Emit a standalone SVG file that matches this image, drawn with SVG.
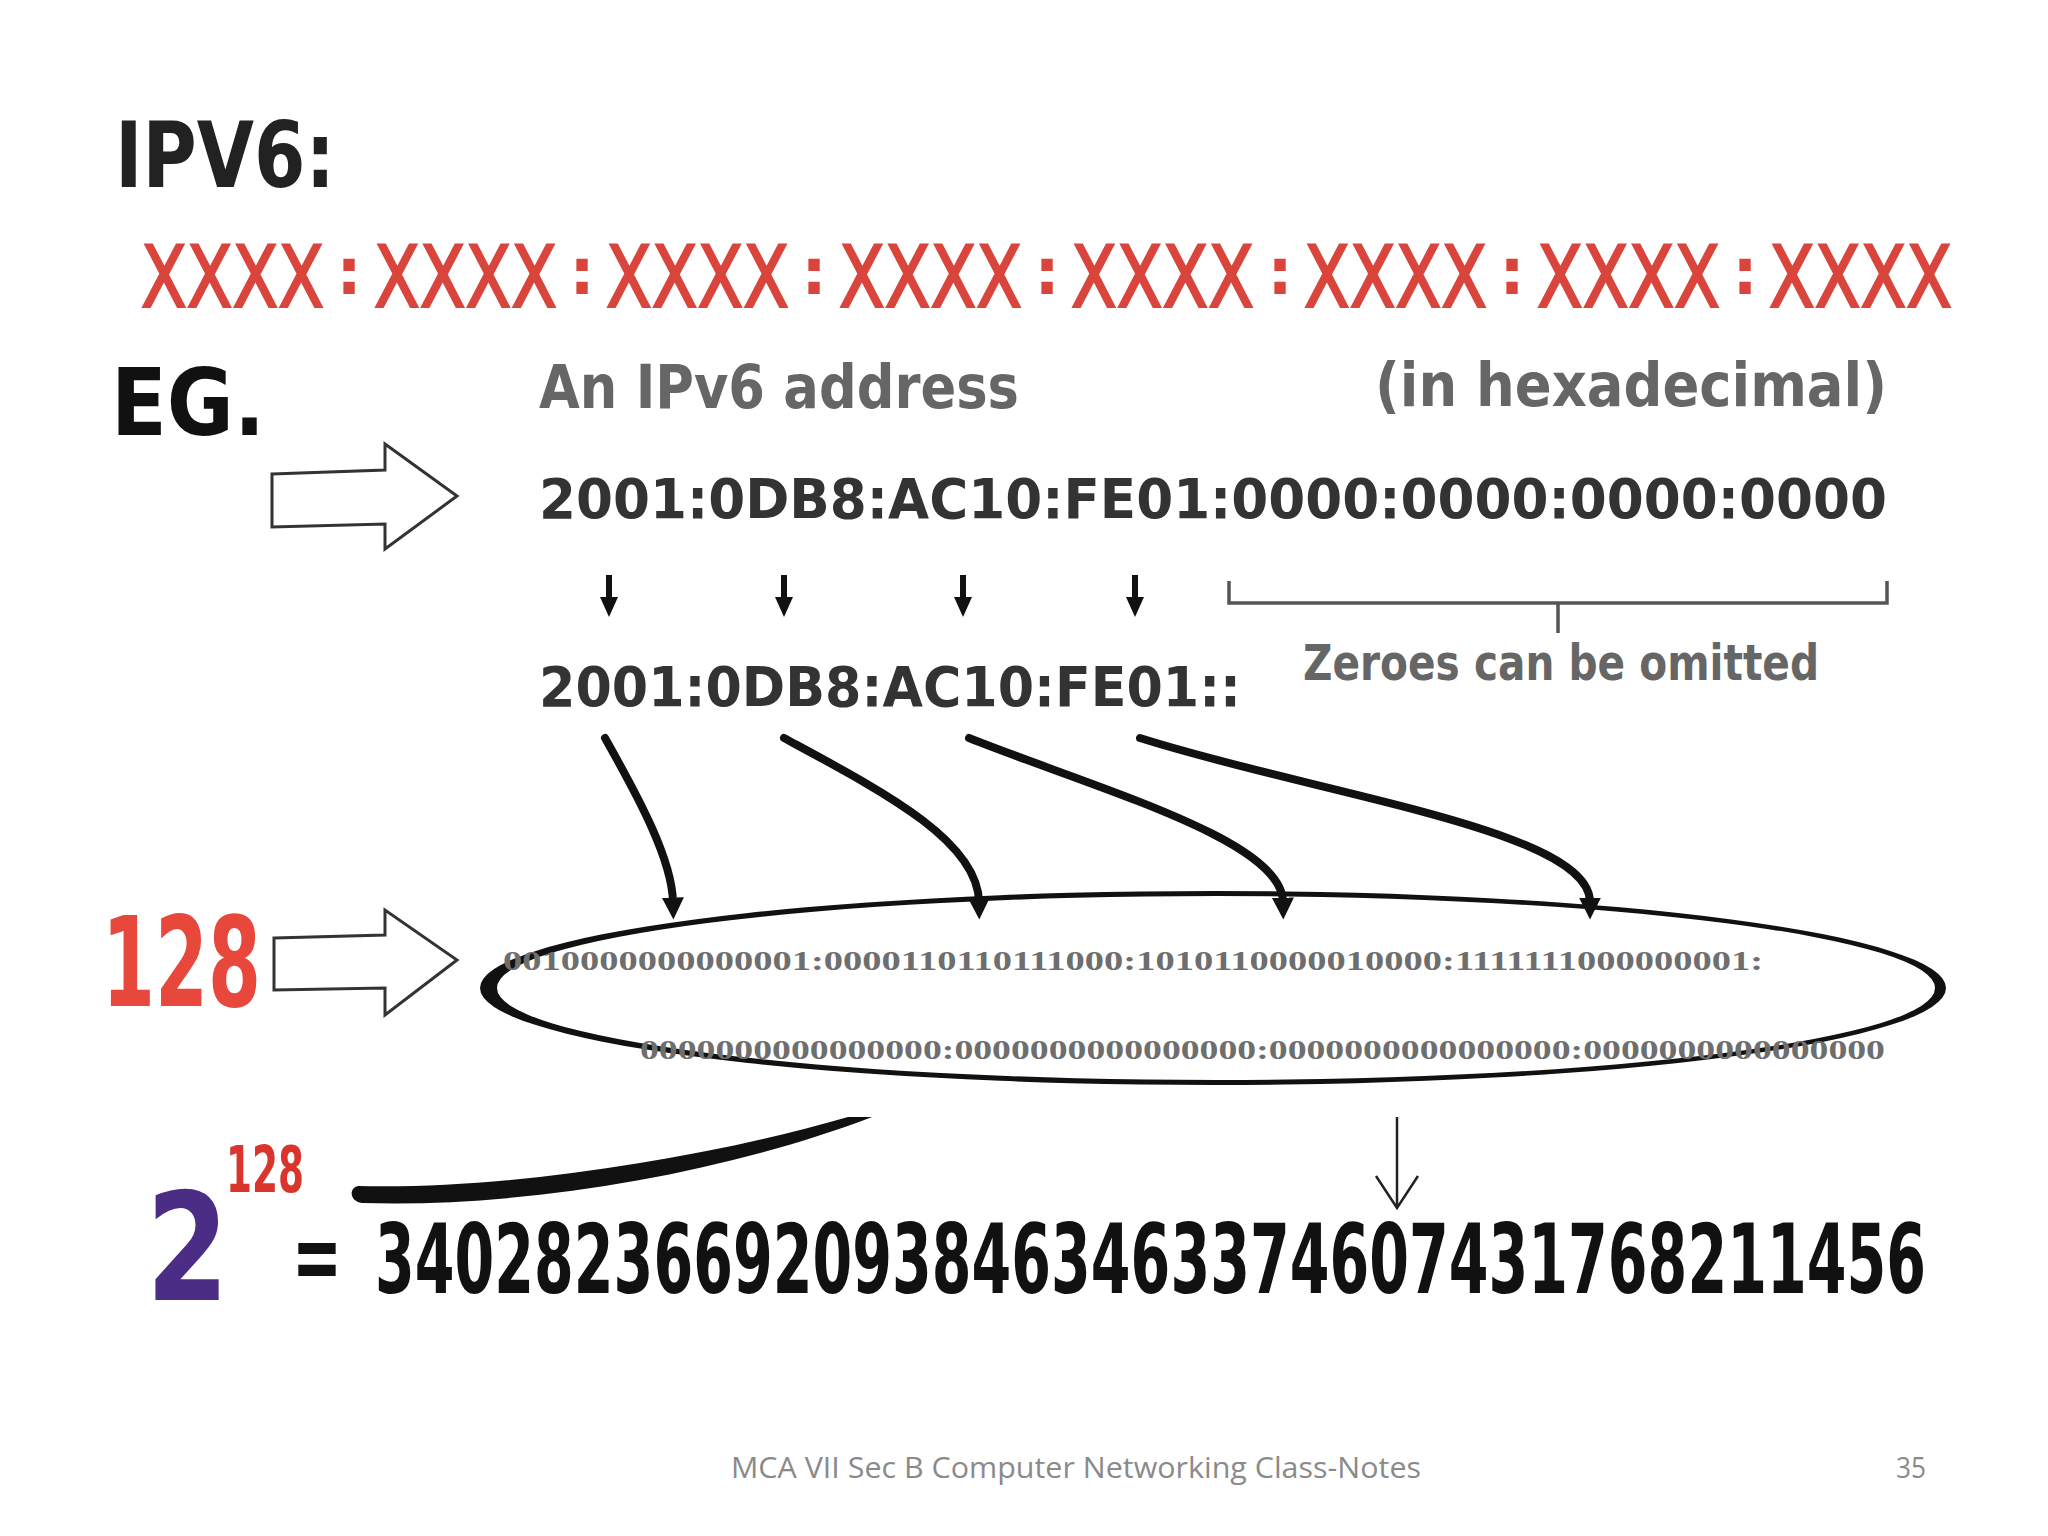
<svg xmlns="http://www.w3.org/2000/svg" width="2048" height="1536" viewBox="0 0 2048 1536">
<defs>
<style>
.cond{font-family:"DejaVu Sans","Liberation Sans",sans-serif;font-stretch:condensed;}
.xx{font-family:"DejaVu Sans","Liberation Sans",sans-serif;font-stretch:condensed;font-size:74px;fill:#d9453c;stroke:#d9453c;stroke-width:1.8;}
.col{font-family:"DejaVu Sans","Liberation Sans",sans-serif;font-size:64px;font-weight:bold;fill:#d9453c;text-anchor:middle;}
.hex{font-family:"DejaVu Sans","Liberation Sans",sans-serif;font-weight:bold;fill:#333;font-size:56px;}
.gray{font-family:"DejaVu Sans","Liberation Sans",sans-serif;font-stretch:condensed;font-weight:bold;fill:#666;}
.bin{font-family:"Liberation Serif","DejaVu Serif",serif;font-weight:bold;fill:#6e6e6e;font-size:28px;}
.foot{font-family:"Open Sans","Liberation Sans",sans-serif;fill:#8a8a8a;font-size:29px;}
.hollow{fill:#fff;stroke:#333;stroke-width:3;stroke-linejoin:miter;}
.curve{fill:none;stroke:#111;stroke-width:8;stroke-linecap:round;}
</style>
<marker id="ah" viewBox="0 0 10 10" refX="2" refY="5" markerWidth="22" markerHeight="22" markerUnits="userSpaceOnUse" orient="auto">
<path d="M0,0 L10,5 L0,10 Z" fill="#111"/>
</marker>
</defs>
<rect width="2048" height="1536" fill="#ffffff"/>

<g id="title">
<text x="115" y="187" class="cond" font-size="90" font-weight="bold" fill="#222" textLength="220" lengthAdjust="spacingAndGlyphs">IPV6:</text>
</g>
<g id="format">
<text transform="translate(141,307) scale(1,1.16)" class="xx" textLength="183" lengthAdjust="spacingAndGlyphs">XXXX</text>
<text x="349" y="294" class="col">:</text>
<text transform="translate(374,307) scale(1,1.16)" class="xx" textLength="183" lengthAdjust="spacingAndGlyphs">XXXX</text>
<text x="582" y="294" class="col">:</text>
<text transform="translate(606,307) scale(1,1.16)" class="xx" textLength="183" lengthAdjust="spacingAndGlyphs">XXXX</text>
<text x="814" y="294" class="col">:</text>
<text transform="translate(839,307) scale(1,1.16)" class="xx" textLength="183" lengthAdjust="spacingAndGlyphs">XXXX</text>
<text x="1047" y="294" class="col">:</text>
<text transform="translate(1071,307) scale(1,1.16)" class="xx" textLength="183" lengthAdjust="spacingAndGlyphs">XXXX</text>
<text x="1280" y="294" class="col">:</text>
<text transform="translate(1304,307) scale(1,1.16)" class="xx" textLength="183" lengthAdjust="spacingAndGlyphs">XXXX</text>
<text x="1512" y="294" class="col">:</text>
<text transform="translate(1537,307) scale(1,1.16)" class="xx" textLength="183" lengthAdjust="spacingAndGlyphs">XXXX</text>
<text x="1745" y="294" class="col">:</text>
<text transform="translate(1769,307) scale(1,1.16)" class="xx" textLength="183" lengthAdjust="spacingAndGlyphs">XXXX</text>
</g>
<g id="eg">
<text x="111" y="435" class="cond" font-size="92" font-weight="bold" fill="#111" textLength="154" lengthAdjust="spacingAndGlyphs">EG.</text>
</g>
<g id="labels">
<text x="539" y="408" class="gray" font-size="60" textLength="480" lengthAdjust="spacingAndGlyphs">An IPv6 address</text>
<text x="1375" y="406" class="gray" font-size="60" textLength="512" lengthAdjust="spacingAndGlyphs">(in hexadecimal)</text>
</g>
<g id="full-address">
<text x="539" y="518" class="hex" textLength="1348" lengthAdjust="spacingAndGlyphs">2001:0DB8:AC10:FE01:0000:0000:0000:0000</text>
</g>
<g id="short-address">
<text x="539" y="706" class="hex" textLength="702" lengthAdjust="spacingAndGlyphs">2001:0DB8:AC10:FE01::</text>
</g>
<g id="zeroes-note">
<path d="M1229,581 L1229,603 L1887,603 L1887,581 M1558,603 L1558,633" fill="none" stroke="#555" stroke-width="3.5"/>
<text x="1303" y="680" class="gray" font-size="50" textLength="516" lengthAdjust="spacingAndGlyphs">Zeroes can be omitted</text>
</g>
<g id="arrow-eg">
<polygon class="hollow" points="272,474 385,470 385,444 457,496 385,549 385,524 272,527"/>
</g>
<g id="label-128">
<text x="102" y="1006" class="cond" font-size="124" font-weight="bold" fill="#e8473c" textLength="159" lengthAdjust="spacingAndGlyphs">128</text>
</g>
<g id="arrow-128">
<polygon class="hollow" points="274,938 385,935 385,910 457,960 385,1015 385,988 274,990"/>
</g>
<g id="binary-ellipse">
<path d="M480,988 a733,97 0 1,0 1466,0 a733,97 0 1,0 -1466,0 Z M497,988 a719,92 0 1,0 1438,0 a719,92 0 1,0 -1438,0 Z" fill="#111" fill-rule="evenodd"/>
<text x="503" y="970" class="bin" textLength="1260" lengthAdjust="spacingAndGlyphs">0010000000000001:0000110110111000:1010110000010000:1111111000000001:</text>
<text x="640" y="1059" class="bin" textLength="1245" lengthAdjust="spacingAndGlyphs">0000000000000000:0000000000000000:0000000000000000:0000000000000000</text>
</g>
<g id="power">
<text x="146" y="1300" class="cond" font-size="150" font-weight="bold" fill="#4b2d86" textLength="83" lengthAdjust="spacingAndGlyphs">2</text>
<text x="226" y="1192" class="cond" font-size="64" font-weight="bold" fill="#d9352c" textLength="78" lengthAdjust="spacingAndGlyphs">128</text>
<text x="292" y="1290" class="cond" font-size="96" font-weight="bold" fill="#111" textLength="50" lengthAdjust="spacingAndGlyphs">=</text>
<text transform="translate(375,1293) scale(1,1.5)" class="cond" font-size="64" font-weight="bold" fill="#111" textLength="1551" lengthAdjust="spacingAndGlyphs">340282366920938463463374607431768211456</text>
</g>
<g id="connectors">
<g fill="#111">
<rect x="606" y="575" width="6" height="24"/><polygon points="600,597 618,597 609,617"/>
<rect x="781" y="575" width="6" height="24"/><polygon points="775,597 793,597 784,617"/>
<rect x="960" y="575" width="6" height="24"/><polygon points="954,597 972,597 963,617"/>
<rect x="1132" y="575" width="6" height="24"/><polygon points="1126,597 1144,597 1135,617"/>
</g>
<path class="curve" d="M605,738 C640,800 672,860 673,902" marker-end="url(#ah)"/>
<path class="curve" d="M784,738 C880,790 978,840 979,902" marker-end="url(#ah)"/>
<path class="curve" d="M969,738 C1100,790 1282,840 1283,902" marker-end="url(#ah)"/>
<path class="curve" d="M1140,738 C1320,795 1590,830 1590,902" marker-end="url(#ah)"/>
<path d="M358,1186 C500,1190 700,1160 848,1117 L872,1117 C720,1175 520,1208 362,1203 C349,1201 349,1188 358,1186 Z" fill="#111"/>
<path d="M1397,1117 L1397,1206 M1376,1176 L1397,1208 L1418,1176" fill="none" stroke="#222" stroke-width="2.5"/>
</g>
<g id="footer">
<text x="731" y="1478" class="foot" textLength="690" lengthAdjust="spacingAndGlyphs">MCA VII Sec B Computer Networking Class-Notes</text>
<text x="1896" y="1478" class="foot" textLength="30" lengthAdjust="spacingAndGlyphs">35</text>
</g>
</svg>
